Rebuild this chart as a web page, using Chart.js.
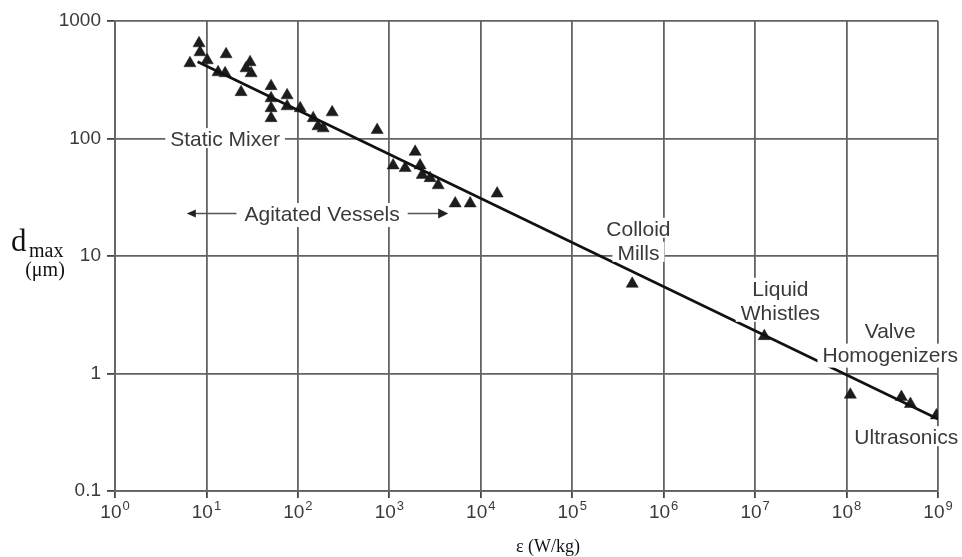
<!DOCTYPE html>
<html>
<head>
<meta charset="utf-8">
<script src="https://cdn.jsdelivr.net/npm/chart.js@4.4.0/dist/chart.umd.min.js"></script>
<style>
  html, body { margin: 0; padding: 0; background: #fff; }
  #wrap { width: 962px; height: 557px; position: relative; }
</style>
</head>
<body>
<div id="wrap"><canvas id="c" width="962" height="557"></canvas></div>
<script>
// Measured maximum drop size against energy dissipation rate
const epsilon = [6.6, 8.3, 8.5, 10.2, 16.4, 13.4, 16.0, 23.9, 27.1, 30.0, 30.8,
  50.9, 50.9, 50.9, 50.9, 76.2, 76.2, 106, 147, 166, 189, 237, 736,
  1100, 1490, 1916, 2170, 2290, 2790, 3420, 5250, 7660, 15100,
  453000, 1.26e7, 1.1e8, 3.98e8, 4.99e8, 9.6e8];
const dmax = [437, 646, 542, 463, 521, 366, 359, 248, 396, 446, 359,
  279, 220, 181, 149, 233, 188, 181, 149, 127, 122, 167, 118,
  59, 56, 77, 59, 49, 46, 40, 28, 28, 34,
  5.8, 2.08, 0.66, 0.63, 0.55, 0.44];

// Correlation line end points
const fitEps = [8, 1e9];
const fitD = [450, 0.41];

// Decade ticks: x labels are written as 10 with a raised exponent
const xTickValues = [1e0, 1e1, 1e2, 1e3, 1e4, 1e5, 1e6, 1e7, 1e8, 1e9];
const xTickExponents = ['0', '1', '2', '3', '4', '5', '6', '7', '8', '9'];
const yTickValues = [0.1, 1, 10, 100, 1000];
const yTickLabels = ['0.1', '1', '10', '100', '1000'];

// Equipment regions written on the plot (data coordinates of the text centre)
const noteText = [['Static Mixer'], ['Agitated Vessels'], ['Colloid', 'Mills'],
  ['Liquid', 'Whistles'], ['Valve', 'Homogenizers'], ['Ultrasonics']];
const noteEps = [16, 184, 5.3e5, 1.89e7, 3.0e8, 4.5e8];
const noteD = [100, 23, 13.6, 4.2, 1.85, 0.29];
// Range arrows for the agitated vessels band
const arrowEps = [6.1, 4400];

const GRID = '#636363';
const TEXT = '#3a3a3a';
const SANS = '"Liberation Sans", Arial, Helvetica, sans-serif';
const SERIF = '"Liberation Serif", "Times New Roman", serif';

const notesPlugin = {
  id: 'notes',
  afterDatasetsDraw(chart) {
    const ctx = chart.ctx;
    const xs = chart.scales.x, ys = chart.scales.y;
    ctx.save();
    ctx.font = '21px ' + SANS;
    ctx.textAlign = 'center';
    ctx.textBaseline = 'alphabetic';
    noteText.forEach((lines, k) => {
      const cx = xs.getPixelForValue(noteEps[k]);
      const cy = ys.getPixelForValue(noteD[k]);
      const step = 24;
      // baseline sits about 7.5px under the visual centre of a cap-height line
      const base = i => cy + (i - (lines.length - 1) / 2) * step + 7.5;
      lines.forEach((t, i) => {
        const m = ctx.measureText(t);
        const w = m.width;
        const top = base(i) - m.actualBoundingBoxAscent - 3;
        const bot = base(i) + m.actualBoundingBoxDescent + 2;
        ctx.fillStyle = '#ffffff';
        ctx.fillRect(cx - w / 2 - 5, top, w + 10, bot - top);
      });
      lines.forEach((t, i) => {
        ctx.fillStyle = TEXT;
        ctx.fillText(t, cx, base(i));
      });
      if (k === 1) {
        const w = ctx.measureText(lines[0]).width;
        const left = xs.getPixelForValue(arrowEps[0]);
        const right = xs.getPixelForValue(arrowEps[1]);
        ctx.strokeStyle = '#555';
        ctx.fillStyle = '#222';
        ctx.lineWidth = 1.3;
        ctx.beginPath();
        ctx.moveTo(cx - w / 2 - 8, cy);
        ctx.lineTo(left + 6, cy);
        ctx.moveTo(cx + w / 2 + 8, cy);
        ctx.lineTo(right - 6, cy);
        ctx.stroke();
        ctx.beginPath();
        ctx.moveTo(left, cy);
        ctx.lineTo(left + 9, cy - 4);
        ctx.lineTo(left + 9, cy + 4);
        ctx.closePath();
        ctx.fill();
        ctx.beginPath();
        ctx.moveTo(right, cy);
        ctx.lineTo(right - 10, cy - 5);
        ctx.lineTo(right - 10, cy + 5);
        ctx.closePath();
        ctx.fill();
      }
    });
    ctx.restore();
  },
  afterDraw(chart) {
    const ctx = chart.ctx;
    const xs = chart.scales.x;
    ctx.save();
    // x tick labels: "10" with superscript exponent, centred on each tick
    ctx.fillStyle = TEXT;
    ctx.textBaseline = 'alphabetic';
    ctx.textAlign = 'left';
    xTickValues.forEach((v, i) => {
      const px = xs.getPixelForValue(v);
      ctx.font = '19px ' + SANS;
      const wb = ctx.measureText('10').width;
      ctx.font = '13px ' + SANS;
      const we = ctx.measureText(xTickExponents[i]).width;
      const x0 = px - (wb + 1 + we) / 2;
      ctx.font = '19px ' + SANS;
      ctx.fillText('10', x0, 518);
      ctx.font = '13px ' + SANS;
      ctx.fillText(xTickExponents[i], x0 + wb + 1, 510);
    });
    // y-axis title: d with subscript "max", unit below
    ctx.fillStyle = '#111';
    ctx.textAlign = 'left';
    ctx.font = '31px ' + SERIF;
    ctx.fillText('d', 11, 251);
    ctx.font = '20px ' + SERIF;
    ctx.fillText('max', 29, 257);
    ctx.textAlign = 'center';
    ctx.font = '20px ' + SERIF;
    ctx.fillText('(μm)', 45, 276);
    // x-axis title
    ctx.font = '18px ' + SERIF;
    ctx.fillText('ε (W/kg)', 548, 552);
    ctx.restore();
  }
};

new Chart(document.getElementById('c'), {
  data: {
    datasets: [
      {
        type: 'scatter',
        data: epsilon.map((e, i) => ({ x: e, y: dmax[i] })),
        pointStyle: 'triangle',
        pointRadius: 7,
        pointBackgroundColor: '#1c1c1c',
        pointBorderColor: '#1c1c1c',
        pointBorderWidth: 0.5,
        order: 2
      },
      {
        type: 'line',
        data: fitEps.map((e, i) => ({ x: e, y: fitD[i] })),
        borderColor: '#111',
        borderWidth: 2.6,
        pointRadius: 0,
        fill: false,
        order: 1
      }
    ]
  },
  options: {
    responsive: false,
    animation: false,
    devicePixelRatio: 1,
    layout: { padding: { left: 0, right: 24, top: 21, bottom: 0 } },
    plugins: { legend: { display: false }, tooltip: { enabled: false } },
    scales: {
      x: {
        type: 'logarithmic',
        position: 'bottom',
        min: 1, max: 1e9,
        afterBuildTicks: s => { s.ticks = xTickValues.map(v => ({ value: v })); },
        afterFit: s => { s.height = 66; },
        ticks: { display: false, autoSkip: false },
        grid: { color: GRID, lineWidth: 1.8, tickLength: 7, tickColor: '#444' },
        border: { color: GRID, width: 1.8 }
      },
      y: {
        type: 'logarithmic',
        position: 'left',
        min: 0.1, max: 1000,
        afterBuildTicks: s => { s.ticks = yTickValues.map(v => ({ value: v })); },
        afterFit: s => { s.width = 115; },
        ticks: {
          autoSkip: false,
          callback: (v, i) => yTickLabels[i],
          font: { family: SANS, size: 19 },
          color: TEXT,
          padding: 6
        },
        grid: { color: GRID, lineWidth: 1.8, tickLength: 8, tickColor: '#444' },
        border: { color: GRID, width: 1.8 }
      }
    }
  },
  plugins: [notesPlugin]
});
</script>
</body>
</html>
